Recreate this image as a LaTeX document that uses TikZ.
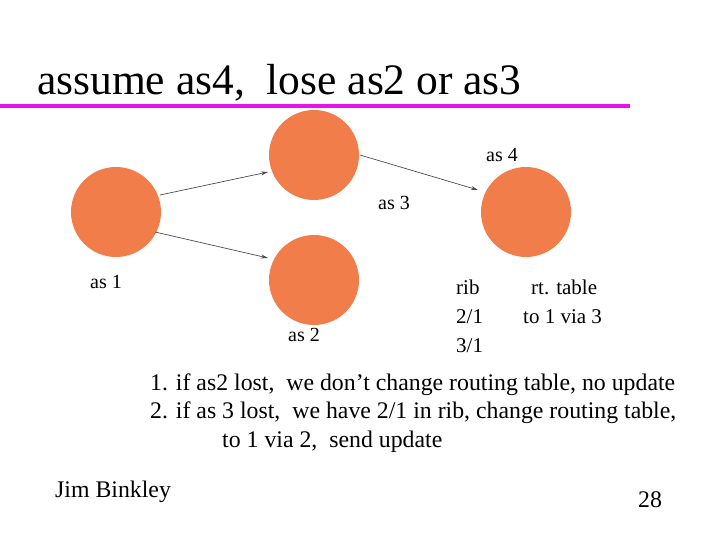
\documentclass[tikz,border=0pt]{standalone}
\usepackage{fontspec}
\setmainfont{Liberation Serif}
\usetikzlibrary{arrows.meta}
\begin{document}
\begin{tikzpicture}[x=1pt,y=-1pt,
  asnode/.style={circle,fill=asfill,minimum size=90pt,inner sep=0pt},
  conn/.style={draw=gray!60!black,line width=0.7pt,-{Stealth[length=7pt,width=4pt]}},
  lbl/.style={anchor=base west,font=\fontsize{23.8}{24}\selectfont,inner sep=0pt}]
\definecolor{asfill}{RGB}{241,125,74}
\definecolor{mag}{RGB}{232,18,232}
\useasboundingbox (0,0) rectangle (720,540);
\node[lbl,font=\fontsize{43.5}{44}\selectfont] (title) at (37,95) {assume as4,\ \ lose as2 or as3};
\draw[mag,line width=4pt] (0,106) -- (630,106);
\node[asnode] (a1) at (116,212) {};
\node[asnode] (a3) at (314,155) {};
\node[asnode] (a2) at (314,280) {};
\node[asnode] (a4) at (526,212) {};
\coordinate (s1) at (160,195); \coordinate (e1) at (268,172);
\coordinate (s2) at (155,232); \coordinate (e2) at (268,258);
\coordinate (s3) at (360,155); \coordinate (e3) at (478,190);
\draw[conn] (s1) -- (e1);
\draw[conn] (s2) -- (e2);
\draw[conn] (s3) -- (e3);
\node[lbl,font=\fontsize{20}{20}\selectfont] (l4) at (486,162) {as 4};
\node[lbl,font=\fontsize{20}{20}\selectfont] (l3) at (378,210) {as 3};
\node[lbl,font=\fontsize{20}{20}\selectfont] (l1) at (90,288) {as 1};
\node[lbl,font=\fontsize{20}{20}\selectfont] (l2) at (288,341) {as 2};
\node[lbl,font=\fontsize{21}{21}\selectfont] (r1) at (456,294) {rib};
\node[lbl,font=\fontsize{21}{21}\selectfont] (r2) at (456,323) {2/1};
\node[lbl,font=\fontsize{21}{21}\selectfont] (r3) at (456,352) {3/1};
\node[lbl,font=\fontsize{21}{21}\selectfont] (t1) at (531,294) {rt. table};
\node[lbl,font=\fontsize{21}{21}\selectfont] (t2) at (523,323) {to 1 via 3};
\node[lbl] (n1) at (150,390) {1. if as2 lost,\ \ we don’t change routing table, no update};
\node[lbl] (n2) at (150,418) {2. if as 3 lost,\ \ we have 2/1 in rib, change routing table,};
\node[lbl] (n3) at (222,447) {to 1 via 2,\ \ send update};
\node[lbl] (jb) at (55,497) {Jim Binkley};
\node[lbl] (pg) at (638,507) {28};
\end{tikzpicture}
\end{document}
